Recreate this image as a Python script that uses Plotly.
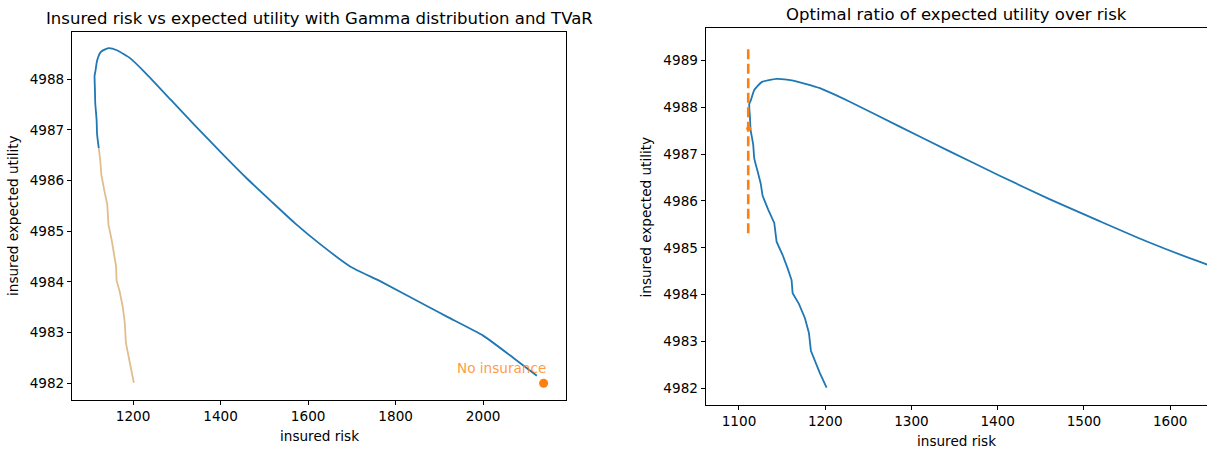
import plotly.graph_objects as go

# ---------------- data ----------------
# efficient frontier (insured risk, insured expected utility), ordered from lower end to upper end
risk = [1201.6, 1193.8, 1183.4, 1181.1, 1176.4, 1169.5, 1162.2, 1161.0, 1156.4, 1150.5,
        1143.6, 1140.9, 1134.0, 1127.4, 1125.1, 1121.5, 1117.7, 1116.5, 1113.5, 1112.7,
        1111.9, 1113.9, 1117.7, 1126.3, 1143.6, 1162.9, 1193.8, 1228.5, 1286.4,
        1344.3, 1402.3, 1460.0, 1518.1, 1570.9, 1628.2, 1696.9, 1765.6, 1872.5, 1918.3,
        2000.0, 2070.8, 2122.8]
utility = [4982.01, 4982.32, 4982.80, 4983.18, 4983.50, 4983.80, 4984.03, 4984.31, 4984.56, 4984.85,
           4985.13, 4985.53, 4985.81, 4986.11, 4986.38, 4986.64, 4986.91, 4987.20, 4987.52, 4987.80,
           4988.07, 4988.16, 4988.37, 4988.54, 4988.61, 4988.57, 4988.41, 4988.12, 4987.59,
           4987.06, 4986.54, 4986.04, 4985.57, 4985.15, 4984.74, 4984.30, 4984.01, 4983.52, 4983.31,
           4982.94, 4982.49, 4982.15]
split_index = 15  # lower (dominated) branch ends here

no_insurance_risk = [2138.2]
no_insurance_utility = [4982.0]

optimal_risk = 1110.7
optimal_line_utility = [4985.31, 4989.34]
optimal_point_risk = [1111.3]
optimal_point_utility = [4987.55]

left_xticks = [1200, 1400, 1600, 1800, 2000]
left_yticks = [4982, 4983, 4984, 4985, 4986, 4987, 4988]
right_xticks = [1100, 1200, 1300, 1400, 1500, 1600]
right_yticks = [4982, 4983, 4984, 4985, 4986, 4987, 4988, 4989]

# ---------------- figure ----------------
W, H = 1207, 452
BLUE = "#1f77b4"
ORANGE = "#ff7f0e"
TAN = "rgb(224,190,142)"
FONT = "DejaVu Sans"
TICK_SIZE = 13.6
TITLE_SIZE = 16.5


def px(xp):
    return xp / W


def py(yp):
    return 1 - yp / H


lower_r, lower_u = risk[:split_index + 1], utility[:split_index + 1]
upper_r, upper_u = risk[split_index:], utility[split_index:]

fig = go.Figure()

# left panel
fig.add_trace(go.Scatter(x=upper_r, y=upper_u, mode="lines",
                         line=dict(color=BLUE, width=1.8, shape="spline", smoothing=0.5),
                         xaxis="x", yaxis="y", showlegend=False, hoverinfo="skip"))
fig.add_trace(go.Scatter(x=lower_r, y=lower_u, mode="lines",
                         line=dict(color=TAN, width=1.8), xaxis="x", yaxis="y",
                         showlegend=False, hoverinfo="skip"))
fig.add_trace(go.Scatter(x=no_insurance_risk, y=no_insurance_utility, mode="markers",
                         marker=dict(color=ORANGE, size=9), xaxis="x", yaxis="y",
                         showlegend=False, hoverinfo="skip"))

# right panel
fig.add_trace(go.Scatter(x=lower_r, y=lower_u, mode="lines",
                         line=dict(color=BLUE, width=1.8), xaxis="x2", yaxis="y2",
                         showlegend=False, hoverinfo="skip"))
fig.add_trace(go.Scatter(x=upper_r, y=upper_u, mode="lines",
                         line=dict(color=BLUE, width=1.8, shape="spline", smoothing=0.5),
                         xaxis="x2", yaxis="y2", showlegend=False, hoverinfo="skip"))
fig.add_trace(go.Scatter(x=[optimal_risk, optimal_risk], y=optimal_line_utility, mode="lines",
                         line=dict(color=ORANGE, width=2.6, dash="10px,4.5px"),
                         xaxis="x2", yaxis="y2", showlegend=False, hoverinfo="skip"))
fig.add_trace(go.Scatter(x=optimal_point_risk, y=optimal_point_utility, mode="markers",
                         marker=dict(color=ORANGE, size=5), xaxis="x2", yaxis="y2",
                         showlegend=False, hoverinfo="skip"))

axis_common = dict(showgrid=False, zeroline=False, showline=True, linecolor="black",
                   linewidth=1, ticks="outside", ticklen=4, tickwidth=1, tickcolor="black",
                   tickfont=dict(family=FONT, size=TICK_SIZE, color="black"))

fig.update_layout(
    width=W, height=H,
    margin=dict(l=0, r=0, t=0, b=0),
    paper_bgcolor="white", plot_bgcolor="white",
    xaxis=dict(domain=[px(72), px(566)], range=[1060.3, 2189.4], tickvals=left_xticks,
               mirror=True, anchor="y", **axis_common),
    yaxis=dict(domain=[py(400), py(32)], range=[4981.67, 4988.93], tickvals=left_yticks,
               mirror=True, anchor="x", **axis_common),
    xaxis2=dict(domain=[px(705.7), 1.0], range=[1061.4, 1642.7], tickvals=right_xticks,
                mirror=True, anchor="y2", **axis_common),
    yaxis2=dict(domain=[py(405), py(28.3)], range=[4981.64, 4989.69], tickvals=right_yticks,
                mirror=False, anchor="x2", **axis_common),
)

annotations = [
    dict(text="Insured risk vs expected utility with Gamma distribution and TVaR",
         x=px(319), y=py(18.5), xref="paper", yref="paper", showarrow=False,
         xanchor="center", yanchor="middle", font=dict(family=FONT, size=TITLE_SIZE, color="black")),
    dict(text="Optimal ratio of expected utility over risk",
         x=px(956), y=py(14.5), xref="paper", yref="paper", showarrow=False,
         xanchor="center", yanchor="middle", font=dict(family=FONT, size=TITLE_SIZE, color="black")),
    dict(text="insured risk", x=px(319), y=py(436), xref="paper", yref="paper",
         showarrow=False, xanchor="center", yanchor="middle",
         font=dict(family=FONT, size=TICK_SIZE, color="black")),
    dict(text="insured risk", x=px(956), y=py(440.5), xref="paper", yref="paper",
         showarrow=False, xanchor="center", yanchor="middle",
         font=dict(family=FONT, size=TICK_SIZE, color="black")),
    dict(text="insured expected utility", x=px(13), y=py(216), xref="paper", yref="paper",
         showarrow=False, xanchor="center", yanchor="middle", textangle=-90,
         font=dict(family=FONT, size=TICK_SIZE, color="black")),
    dict(text="insured expected utility", x=px(645.5), y=py(217), xref="paper", yref="paper",
         showarrow=False, xanchor="center", yanchor="middle", textangle=-90,
         font=dict(family=FONT, size=TICK_SIZE, color="black")),
    dict(text="No insurance", x=no_insurance_risk[0], y=no_insurance_utility[0],
         xref="x", yref="y", showarrow=False, xanchor="right", yanchor="middle",
         xshift=4, yshift=15, font=dict(family=FONT, size=TICK_SIZE, color="rgba(255,127,14,0.8)")),
]
fig.update_layout(annotations=annotations)

fig.write_html("out.html")
